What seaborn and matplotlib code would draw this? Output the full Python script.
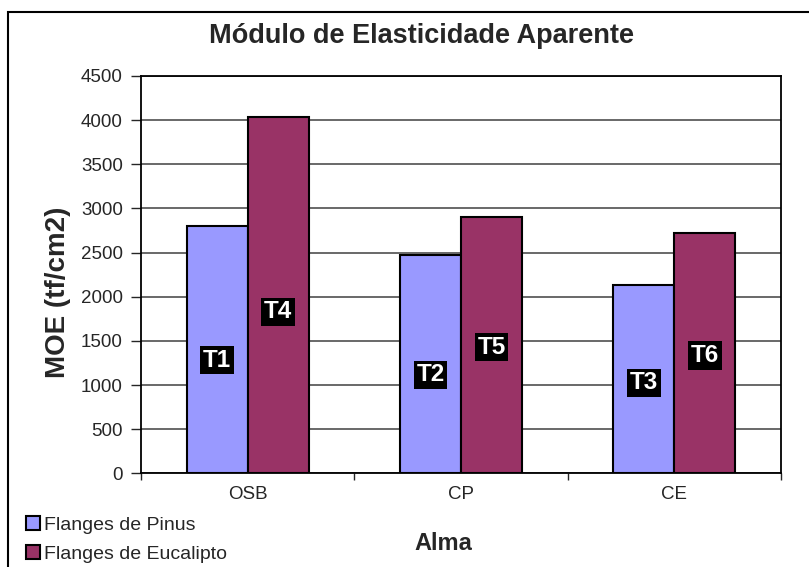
import numpy as np
import pandas as pd
import matplotlib.pyplot as plt
import seaborn as sns
from matplotlib.patches import Rectangle

# Dados
almas = ['OSB', 'CP', 'CE']
series = ['Flanges de Pinus', 'Flanges de Eucalipto']
moe_pinus = [2800, 2475, 2135]
moe_eucalipto = [4040, 2905, 2725]
trat_pinus = ['T1', 'T2', 'T3']
trat_eucalipto = ['T4', 'T5', 'T6']
label_y_pinus = [1280, 1115, 1025]
label_y_eucalipto = [1830, 1430, 1335]
cores = ['#9999FF', '#993366']

df = pd.DataFrame({
    'Alma': almas * 2,
    'Flanges': [series[0]] * len(almas) + [series[1]] * len(almas),
    'MOE': moe_pinus + moe_eucalipto,
})

sns.set_style('white')
plt.rcParams['font.family'] = ['Liberation Sans', 'DejaVu Sans']

fig = plt.figure(figsize=(8.09, 5.67), dpi=100)
ax = fig.add_axes([141 / 809, 1 - 473.3 / 567, 640 / 809, 397.3 / 567])

sns.barplot(data=df, x='Alma', y='MOE', hue='Flanges', palette=cores,
            width=0.572, edgecolor='black', linewidth=1.5, saturation=1,
            ax=ax, zorder=3)

# rotulos T1..T6 dentro das barras
rotulos = [(trat_pinus, label_y_pinus), (trat_eucalipto, label_y_eucalipto)]
for cont, (txts, ys) in zip(ax.containers, rotulos):
    for bar, txt, y in zip(cont, txts, ys):
        ax.text(bar.get_x() + bar.get_width() / 2, y, txt, ha='center', va='center',
                color='white', fontsize=17.5, weight='bold', zorder=5,
                bbox=dict(facecolor='black', edgecolor='none', pad=2))

ax.set_ylim(0, 4500)
ax.set_yticks(np.arange(0, 4501, 500))
ax.yaxis.grid(True, color='0.25', lw=1.1)
ax.set_axisbelow(True)

ax.set_xlim(-0.5, 2.5)
ax.set_xticks([-0.5, 0.5, 1.5, 2.5])
ax.set_xticklabels([])
ax.set_xticks(range(len(almas)), minor=True)
ax.set_xticklabels(almas, minor=True)
ax.tick_params(axis='x', which='major', length=5, width=1, direction='out', bottom=True)
ax.tick_params(axis='x', which='minor', length=0, pad=9, labelsize=13.5)
ax.tick_params(axis='y', length=7, width=1, direction='out', left=True, labelsize=13.5, pad=6)
for s in ax.spines.values():
    s.set_color('black')
    s.set_linewidth(1.3)
ax.set_xlabel('')
ax.set_ylabel('')

handles, labels = ax.get_legend_handles_labels()
ax.get_legend().remove()
fig.legend(handles, labels, loc='upper left', bbox_to_anchor=(26 / 809, 1 - 516 / 567),
           frameon=False, fontsize=14, handlelength=0.7, handleheight=0.7,
           handletextpad=0.25, borderaxespad=0, borderpad=0, labelspacing=0.6)

fig.text(421.5 / 809, 1 - 36 / 567, 'Módulo de Elasticidade Aparente',
         ha='center', va='center', fontsize=19.5, weight='bold')
fig.text(58 / 809, 1 - 292 / 567, 'MOE (tf/cm2)', rotation=90,
         ha='center', va='center', fontsize=20, weight='bold')
fig.text(443 / 809, 1 - 543 / 567, 'Alma', ha='center', va='center',
         fontsize=17, weight='bold')

fig.patches.append(Rectangle((8 / 809, -0.1), 1.0, 1.1 - 12 / 567, transform=fig.transFigure,
                             fill=False, edgecolor='black', linewidth=1.5))

fig.savefig('out.png', dpi=100)
